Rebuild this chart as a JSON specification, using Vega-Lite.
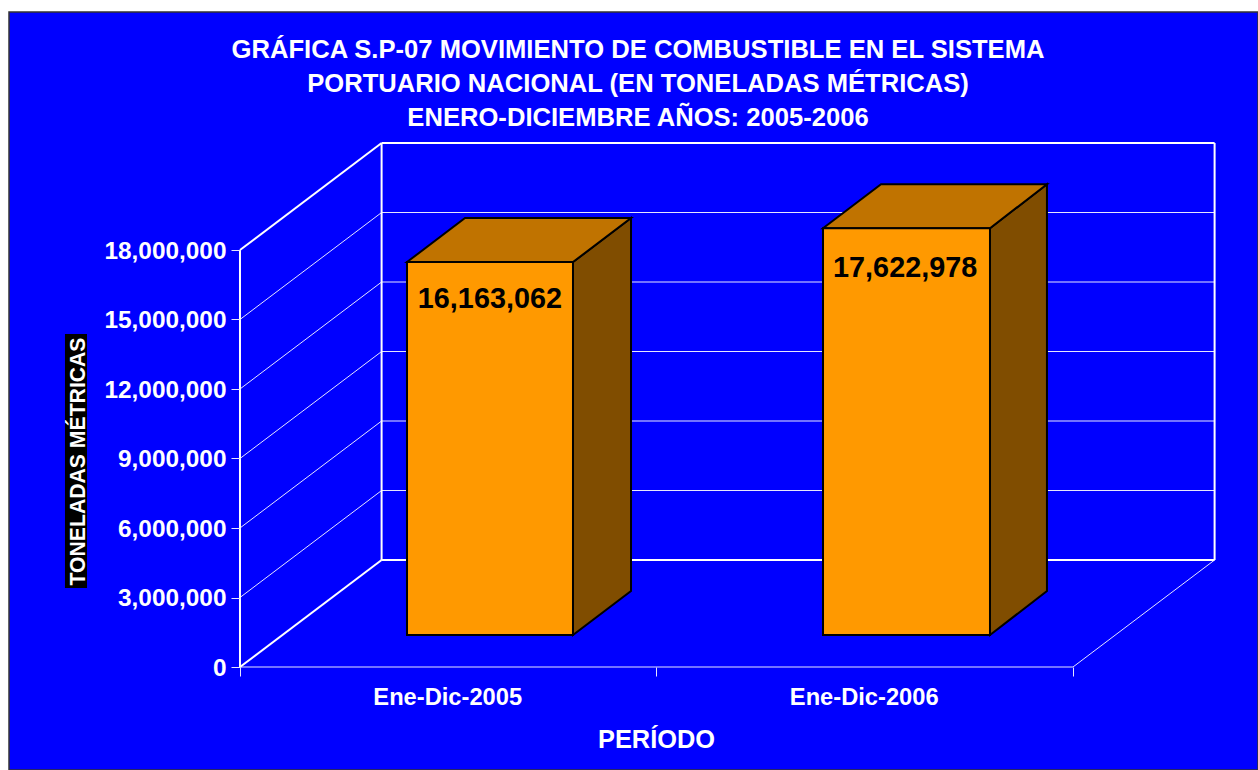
{
"$schema":"https://vega.github.io/schema/vega-lite/v6.json",
"width":1249,"height":758,
"autosize":{"type":"none"},
"padding":{"left":9,"top":12,"right":0,"bottom":0},
"background":"#FFFFFF",
"view":{"fill":"#0000FF","stroke":"#333333","strokeWidth":1.5},
"title":{"text":["GRÁFICA S.P-07 MOVIMIENTO DE COMBUSTIBLE EN EL SISTEMA","PORTUARIO NACIONAL (EN TONELADAS MÉTRICAS)","ENERO-DICIEMBRE AÑOS: 2005-2006"],"orient":"top","anchor":"middle","frame":"group","baseline":"alphabetic","offset":0,"dy":140,"dx":4.5,"lineHeight":34,"font":"Liberation Sans","fontSize":25.6,"fontWeight":"bold","color":"#FFFFFF"},
"datasets":{
"delgadas":[
{"x":0,"y":3000000,"x2":0.34,"y2":7618705},
{"x":0,"y":6000000,"x2":0.34,"y2":10618705},
{"x":0,"y":9000000,"x2":0.34,"y2":13618705},
{"x":0,"y":12000000,"x2":0.34,"y2":16618705},
{"x":0,"y":15000000,"x2":0.34,"y2":19618705},
{"x":0.34,"y":7618705,"x2":2.34,"y2":7618705},
{"x":0.34,"y":10618705,"x2":2.34,"y2":10618705},
{"x":0.34,"y":13618705,"x2":2.34,"y2":13618705},
{"x":0.34,"y":16618705,"x2":2.34,"y2":16618705},
{"x":0.34,"y":19618705,"x2":2.34,"y2":19618705},
{"x":0,"y":0,"x2":2,"y2":0},
{"x":2,"y":0,"x2":2.34,"y2":4618705}
],
"gruesas":[
{"x":0,"y":0,"x2":0,"y2":18000000},
{"x":0,"y":0,"x2":0.34,"y2":4618705},
{"x":0,"y":18000000,"x2":0.34,"y2":22618705},
{"x":0.34,"y":4618705,"x2":0.34,"y2":22618705},
{"x":2.34,"y":4618705,"x2":2.34,"y2":22618705},
{"x":0.34,"y":22618705,"x2":2.34,"y2":22618705},
{"x":0.34,"y":4618705,"x2":2.34,"y2":4618705}
],
"barras":[
{"periodo":"Ene-Dic-2005","toneladas":16163062,"inicio":0.401,"fin":0.7995,"centro":0.6,"alturaEtiqueta":15496415},
{"periodo":"Ene-Dic-2006","toneladas":17622978,"inicio":1.3998,"fin":1.8007,"centro":1.597,"alturaEtiqueta":16834545}
],
"lateral":[
{"periodo":"Ene-Dic-2005","x":0.7995,"abajo":0,"arriba":16163062},
{"periodo":"Ene-Dic-2005","x":0.9388,"abajo":1899281,"arriba":18062343},
{"periodo":"Ene-Dic-2006","x":1.8007,"abajo":0,"arriba":17622978},
{"periodo":"Ene-Dic-2006","x":1.9375,"abajo":1899281,"arriba":19522259}
],
"superior":[
{"periodo":"Ene-Dic-2005","x":0.401,"abajo":16163062,"arriba":16163062},
{"periodo":"Ene-Dic-2005","x":0.5403,"abajo":16163062,"arriba":18062343},
{"periodo":"Ene-Dic-2005","x":0.7995,"abajo":16163062,"arriba":18062343},
{"periodo":"Ene-Dic-2005","x":0.9388,"abajo":18062343,"arriba":18062343},
{"periodo":"Ene-Dic-2006","x":1.3998,"abajo":17622978,"arriba":17622978},
{"periodo":"Ene-Dic-2006","x":1.5391,"abajo":17622978,"arriba":19522259},
{"periodo":"Ene-Dic-2006","x":1.8007,"abajo":17622978,"arriba":19522259},
{"periodo":"Ene-Dic-2006","x":1.9375,"abajo":19522259,"arriba":19522259}
],
"fondoTitulo":[{"x":-0.4202,"x2":-0.3673,"y":3410074,"y2":14374112}]
},
"layer":[
{"data":{"name":"fondoTitulo"},"mark":{"type":"rect","color":"#000000"},
 "encoding":{
 "x":{"field":"x","type":"quantitative","scale":{"domain":[-0.5546,2.4442],"nice":false,"zero":false},
  "axis":{"values":[0,0.5,1,1.5,2],"orient":"bottom","offset":-103,"zindex":1,"domain":false,"grid":false,"tickSize":9,"tickColor":"#E6E6FF","tickWidth":1,
   "tickOpacity":{"condition":{"test":"datum.value % 1 === 0","value":1},"value":0},
   "labelExpr":"datum.value === 0.5 ? 'Ene-Dic-2005' : datum.value === 1.5 ? 'Ene-Dic-2006' : ''",
   "labelFont":"Liberation Sans","labelFontSize":23.7,"labelFontWeight":"bold","labelColor":"#FFFFFF","labelPadding":9,"labelOffset":-1,"labelFlush":false,"labelOverlap":false,"labelBaseline":"top",
   "title":"PERÍODO","titleFont":"Liberation Sans","titleFontSize":25.4,"titleFontWeight":"bold","titleColor":"#FFFFFF","titleX":647,"titleY":80,"titleAlign":"center","titleBaseline":"alphabetic"}},
 "x2":{"field":"x2"},
 "y":{"field":"y","type":"quantitative","scale":{"domain":[-4446043,28273381],"nice":false,"zero":false},
  "axis":{"values":[0,3000000,6000000,9000000,12000000,15000000,18000000],"orient":"left","offset":-231,"zindex":1,"domain":false,"grid":false,"labelExpr":"format(datum.value, ',d')","tickSize":9,"tickColor":"#E6E6FF","tickWidth":1,
   "labelFont":"Liberation Sans","labelFontSize":24.4,"labelFontWeight":"bold","labelColor":"#FFFFFF","labelPadding":5,"labelOffset":1,"labelOverlap":false,"labelFlush":false,
   "title":"TONELADAS MÉTRICAS","titleFont":"Liberation Sans","titleFontSize":21.2,"titleFontWeight":"bold","titleColor":"#FFFFFF","titleAngle":270,"titleX":-156,"titleY":449,"titleAlign":"center","titleBaseline":"alphabetic"}},
 "y2":{"field":"y2"}}},
{"data":{"name":"delgadas"},"mark":{"type":"rule","color":"#E6E6FF","strokeWidth":1},
 "encoding":{"x":{"field":"x","type":"quantitative"},"x2":{"field":"x2"},"y":{"field":"y","type":"quantitative"},"y2":{"field":"y2"}}},
{"data":{"name":"gruesas"},"mark":{"type":"rule","color":"#FFFFFF","strokeWidth":2},
 "encoding":{"x":{"field":"x","type":"quantitative"},"x2":{"field":"x2"},"y":{"field":"y","type":"quantitative"},"y2":{"field":"y2"}}},
{"data":{"name":"lateral"},"mark":{"type":"area","color":"#804D00","stroke":"#000000","strokeWidth":2,"yOffset":-30.5,"y2Offset":-32},
 "encoding":{"x":{"field":"x","type":"quantitative"},"y":{"field":"arriba","type":"quantitative"},"y2":{"field":"abajo"},"detail":{"field":"periodo"}}},
{"data":{"name":"superior"},"mark":{"type":"area","color":"#C07300","stroke":"#000000","strokeWidth":2,"yOffset":-30.5,"y2Offset":-30.5},
 "encoding":{"x":{"field":"x","type":"quantitative"},"y":{"field":"arriba","type":"quantitative"},"y2":{"field":"abajo"},"detail":{"field":"periodo"}}},
{"data":{"name":"barras"},"mark":{"type":"rect","color":"#FF9900","stroke":"#000000","strokeWidth":2,"yOffset":-30.5,"y2Offset":-32},
 "encoding":{"x":{"field":"inicio","type":"quantitative"},"x2":{"field":"fin"},"y":{"field":"toneladas","type":"quantitative"},"y2":{"datum":0}}},
{"data":{"name":"barras"},"mark":{"type":"text","font":"Liberation Sans","fontSize":28.8,"fontWeight":"bold","color":"#000000","baseline":"alphabetic","align":"center"},
 "encoding":{"x":{"field":"centro","type":"quantitative"},"y":{"field":"alturaEtiqueta","type":"quantitative"},"text":{"field":"toneladas","type":"quantitative","format":",d"}}}
]
}
